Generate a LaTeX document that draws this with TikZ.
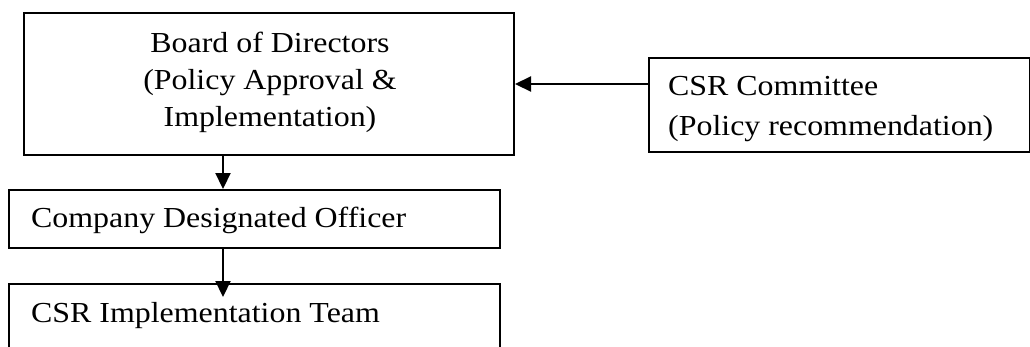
\documentclass[tikz,border=0pt]{standalone}
\usepackage{fontspec}
\setmainfont{Liberation Serif}[FakeStretch=1.1]
\usetikzlibrary{arrows.meta,calc}
\tikzset{
  box/.style={draw=black, line width=2pt, inner sep=0pt, anchor=north west},
  lbl/.style={inner sep=0pt, font=\fontsize{29}{37}\selectfont},
  arr/.style={line width=2.2pt, -{Triangle[length=16pt,width=15pt]}}
}
\begin{document}
\begin{tikzpicture}[x=1pt,y=-1pt]
\useasboundingbox (0,0) rectangle (1030,346);
\begin{scope}
\clip (0,0) rectangle (1030,346);
\node[box, minimum width=490pt, minimum height=142pt] (board) at (23,12) {};
\node[box, minimum width=381pt, minimum height=94pt] (csr) at (648,57) {};
\node[box, minimum width=491pt, minimum height=58pt] (cdo) at (8,189) {};
\node[box, minimum width=491pt, minimum height=90pt] (impl) at (8,283) {};
\end{scope}
\node[lbl, align=center, anchor=base] (boardtxt) at (270,126) {Board of Directors\\(Policy Approval \&\\Implementation)};
\node[lbl, align=left, anchor=base west, font=\fontsize{29}{40}\selectfont] (csrtxt) at (668,135) {CSR Committee\\(Policy recommendation)};
\node[lbl, anchor=base west] (cdotxt) at (31,227) {Company Designated Officer};
\node[lbl, anchor=base west] (impltxt) at (31,322) {CSR Implementation Team};
\coordinate (ax) at (223,0);
\draw[arr] (board.south -| ax) -- (cdo.north -| ax);
\draw[arr] (cdo.south -| ax) -- ([yshift=-14pt]impl.north -| ax);
\draw[arr] (csr.west |- board.east) -- (board.east);
\end{tikzpicture}
\end{document}
